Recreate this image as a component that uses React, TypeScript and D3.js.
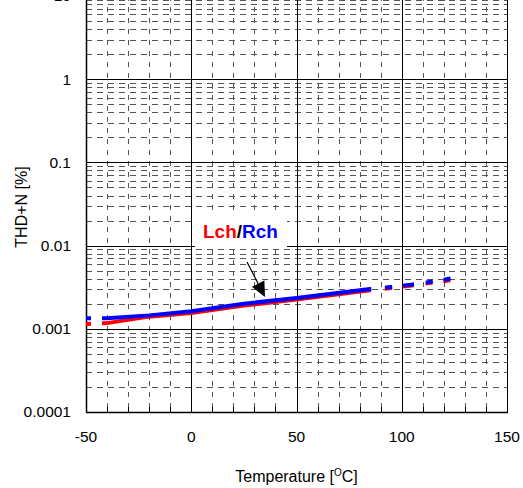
import React from "react";
import * as d3 from "d3";

const temps = [-50, -40, -20, 0, 25, 50, 85, 95, 105, 115, 125];
const lchValues = [0.00114, 0.00117, 0.0014, 0.00155, 0.0019, 0.00225, 0.0029, 0.0031, 0.00332, 0.0036, 0.0039];
const rchValues = [0.00134, 0.00134, 0.00145, 0.00163, 0.002, 0.00235, 0.003, 0.00318, 0.0034, 0.0037, 0.0041];
const xTicks = [-50, 0, 50, 100, 150];
const yTicks = [0.0001, 0.001, 0.01, 0.1, 1, 10];
const yTickLabels = ["0.0001", "0.001", "0.01", "0.1", "1", "10"];

const W = 523;
const H = 488;
const left = 86;
const right = 507;
const bottom = 412;
const top = -4;

export default function App() {
  const x = d3.scaleLinear().domain([-50, 150]).range([left, right]);
  const y = d3.scaleLog().domain([1e-4, 10]).range([bottom, top]);
  const snap = (v: number) => Math.round(v) + 0.5;

  const minorX: number[] = [];
  for (let t = -40; t < 150; t += 10) if (t % 50 !== 0) minorX.push(t);
  const minorY: number[] = [];
  for (let e = -4; e < 1; e++) for (let m = 2; m <= 9; m++) minorY.push(m * Math.pow(10, e));

  const line = d3
    .line<number>()
    .x((_, i) => x(temps[i]))
    .y((d) => y(d));

  const dash = "5 11 271 14 7 11 11 12 7 11 7 200";
  const font = "'Liberation Sans', Arial, sans-serif";

  // arrow geometry
  const ax0 = 247, ay0 = 262, ax1 = 265, ay1 = 297;
  const len = Math.hypot(ax1 - ax0, ay1 - ay0);
  const ux = (ax1 - ax0) / len, uy = (ay1 - ay0) / len;
  const bx = ax1 - 15 * ux, by = ay1 - 15 * uy;
  const px = -uy * 7, py = ux * 7;

  return (
    <div style={{ position: "absolute", left: 0, top: 0 }}>
      <svg width={W} height={H} style={{ display: "block", background: "#fff" }}>
        <rect x={0} y={0} width={W} height={H} fill="#fff" />
        {/* minor grid */}
        {minorX.map((t) => (
          <line key={"mx" + t} x1={snap(x(t))} x2={snap(x(t))} y1={top} y2={bottom} stroke="#555" strokeWidth={1} strokeDasharray="5 6" />
        ))}
        {minorY.map((v) => (
          <line key={"my" + v} x1={left} x2={right} y1={snap(y(v))} y2={snap(y(v))} stroke="#555" strokeWidth={1} strokeDasharray="6 5" />
        ))}
        {/* major grid */}
        {xTicks.map((t) => (
          <line key={"Mx" + t} x1={snap(x(t))} x2={snap(x(t))} y1={top} y2={bottom} stroke="#000" strokeWidth={1} />
        ))}
        {yTicks.map((v) => (
          <line key={"My" + v} x1={left} x2={right} y1={snap(y(v))} y2={snap(y(v))} stroke="#000" strokeWidth={1} />
        ))}
        {/* bottom ticks */}
        {minorX.map((t) => (
          <line key={"tk" + t} x1={snap(x(t))} x2={snap(x(t))} y1={bottom - 5} y2={bottom} stroke="#000" strokeWidth={1} />
        ))}
        <line x1={snap(left)} x2={snap(left)} y1={top} y2={bottom + 0.5} stroke="#000" strokeWidth={1.5} />
        <line x1={left} x2={right + 1} y1={snap(bottom)} y2={snap(bottom)} stroke="#000" strokeWidth={1.5} />

        {/* series */}
        <path d={line(lchValues) || ""} fill="none" stroke="#ff0000" strokeWidth={4} strokeDasharray={dash} />
        <path d={line(rchValues) || ""} fill="none" stroke="#0000ff" strokeWidth={4} strokeDasharray={dash} />

        {/* label */}
        <rect x={195} y={213} width={92} height={34} fill="#fff" />
        <text x={203} y={238} fontFamily={font} fontSize={19} fontWeight="bold">
          <tspan fill="#ff0000">Lch</tspan>
          <tspan fill="#000">/</tspan>
          <tspan fill="#0000ff">Rch</tspan>
        </text>
        <line x1={ax0} y1={ay0} x2={bx} y2={by} stroke="#000" strokeWidth={1.2} />
        <polygon points={`${ax1},${ay1} ${bx + px},${by + py} ${bx - px},${by - py}`} fill="#000" />

        {/* y tick labels */}
        {yTicks.map((v, i) => (
          <text key={"yl" + v} x={71} y={y(v)} dy="0.35em" textAnchor="end" fontFamily={font} fontSize={15.5} fill="#000">
            {yTickLabels[i]}
          </text>
        ))}
        {/* x tick labels */}
        {xTicks.map((t) => (
          <text key={"xl" + t} x={x(t)} y={441.5} textAnchor="middle" fontFamily={font} fontSize={15.5} fill="#000">
            {t}
          </text>
        ))}
        <text x={(left + right) / 2} y={482} textAnchor="middle" fontFamily={font} fontSize={16} fill="#000">
          Temperature [<tspan fontSize={10} dy={-6}>O</tspan>
          <tspan dy={6}>C]</tspan>
        </text>
        <text transform="translate(26.5,207) rotate(-90)" textAnchor="middle" fontFamily={font} fontSize={16} fill="#000">
          THD+N [%]
        </text>
      </svg>
    </div>
  );
}
